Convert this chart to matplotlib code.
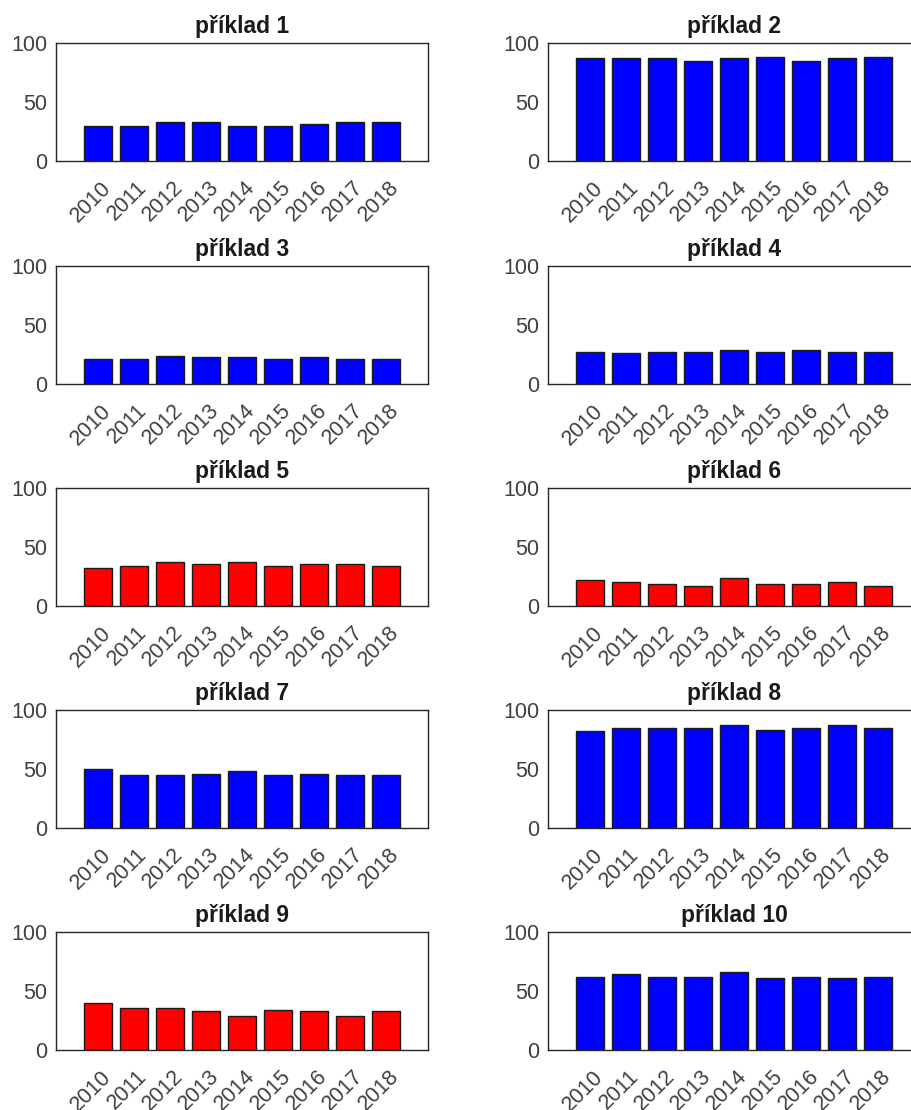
import numpy as np
import matplotlib.pyplot as plt
import matplotlib.transforms as mtransforms

plt.rcParams['font.family'] = ['Liberation Sans', 'DejaVu Sans']

years = ['2010', '2011', '2012', '2013', '2014', '2015', '2016', '2017', '2018']

priklad_1 = [30, 30, 33, 33, 30, 30, 31, 33, 33]
priklad_2 = [87, 87, 87, 85, 87, 88, 85, 87, 88]
priklad_3 = [21, 21, 24, 23, 23, 21, 23, 21, 21]
priklad_4 = [27, 26, 27, 27, 29, 27, 29, 27, 27]
priklad_5 = [32, 34, 37, 36, 37, 34, 36, 36, 34]
priklad_6 = [22, 20, 19, 17, 24, 19, 19, 20, 17]
priklad_7 = [50, 45, 45, 46, 48, 45, 46, 45, 45]
priklad_8 = [82, 85, 85, 85, 87, 83, 85, 87, 85]
priklad_9 = [40, 36, 36, 33, 29, 34, 33, 29, 33]
priklad_10 = [62, 64, 62, 62, 66, 61, 62, 61, 62]

series = [priklad_1, priklad_2, priklad_3, priklad_4, priklad_5,
          priklad_6, priklad_7, priklad_8, priklad_9, priklad_10]
colors = ['#0000ff', '#0000ff', '#0000ff', '#0000ff', '#ff0000',
          '#ff0000', '#0000ff', '#0000ff', '#ff0000', '#0000ff']

W, H = 912, 1110
fig = plt.figure(figsize=(W / 100, H / 100), dpi=100)

col_left = [56, 548]
row_top = [43, 266, 488, 710, 932]
ax_w, ax_h = 372, 118

# nudge the rotated year labels so their ends sit right of the tick
label_shift = mtransforms.ScaledTranslation(10 / 100, 0, fig.dpi_scale_trans)

x = np.arange(len(years))
for i, (vals, c) in enumerate(zip(series, colors)):
    row, col = divmod(i, 2)
    left = col_left[col]
    top = row_top[row]
    ax = fig.add_axes([left / W, 1 - (top + ax_h) / H, ax_w / W, ax_h / H])
    ax.bar(x, vals, width=0.8, color=c, edgecolor='#1a1a1a', linewidth=1.0)
    ax.set_xlim(-1.17, len(years) - 1 + 1.17)
    ax.set_ylim(0, 100)
    ax.set_yticks([0, 50, 100])
    ax.set_xticks(x)
    ax.set_xticklabels(years, rotation=45, ha='right', va='center',
                       rotation_mode='anchor')
    ax.tick_params(axis='both', direction='in', length=0, labelsize=15.5,
                   labelcolor='#404040')
    ax.tick_params(axis='y', pad=6)
    ax.tick_params(axis='x', pad=17)
    for lbl in ax.get_xticklabels():
        lbl.set_transform(lbl.get_transform() + label_shift)
    for sp in ax.spines.values():
        sp.set_color('#262626')
        sp.set_linewidth(1.0)
    ax.set_title(f'příklad {i + 1}', fontsize=16.5, fontweight='bold',
                 color='#1a1a1a', pad=7)

fig.savefig('out.png', dpi=100)
